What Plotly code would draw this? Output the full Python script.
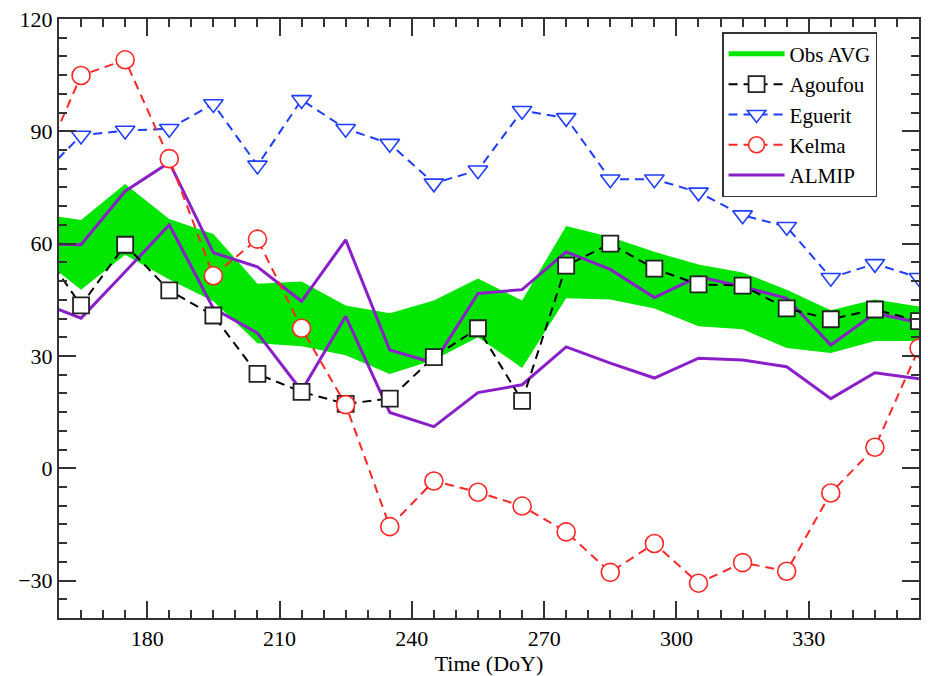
import plotly.graph_objects as go

# Day of year (10-day steps)
doy = [155, 165, 175, 185, 195, 205, 215, 225, 235, 245, 255,
       265, 275, 285, 295, 305, 315, 325, 335, 345, 355]

# Observed average envelope
obs_upper = [68, 66.3, 75.9, 66.6, 62.6, 49.3, 49.9, 43.5, 41.4, 44.8, 50.7,
             44.8, 64.7, 61.8, 57.8, 54.4, 52.3, 47.7, 42.2, 45.1, 43.2]
obs_lower = [57, 47.7, 57.0, 50.4, 44.6, 33.4, 32.6, 30.2, 25.2, 28.9, 35.0,
             26.8, 45.4, 45.1, 42.7, 37.9, 37.1, 32.1, 30.8, 34.0, 34.0]

# Site series
agoufou = [60.5, 43.5, 59.7, 47.5, 40.8, 25.2, 20.4, 17.2, 18.6, 29.7, 37.4,
           18.0, 54.1, 60.0, 53.3, 49.1, 48.8, 42.7, 39.8, 42.4, 39.3]
eguerit = [77, 88.9, 90.2, 90.7, 97.3, 80.9, 98.4, 90.7, 86.7, 76.1, 79.6,
           95.5, 93.6, 77.2, 77.2, 73.7, 67.6, 64.5, 50.9, 54.6, 50.9]
kelma = [78, 104.9, 109.1, 82.7, 51.4, 61.2, 37.4, 17.0, -15.6, -3.4, -6.4,
         -10.1, -17.0, -27.8, -20.1, -30.7, -25.2, -27.5, -6.6, 5.6, 32.1]

# ALMIP model, upper and lower members
almip_hi = [60, 59.7, 74.0, 81.7, 57.6, 53.8, 44.6, 61.0, 31.6, 28.1, 46.7,
            47.7, 57.8, 53.1, 45.6, 51.2, 48.5, 45.4, 32.9, 41.4, 38.9]
almip_lo = [44.7, 40.1, 52.5, 65.0, 42.7, 36.1, 20.7, 40.6, 14.9, 11.1, 20.2,
            22.3, 32.4, 28.1, 24.1, 29.4, 28.9, 27.1, 18.6, 25.5, 23.9]

GREEN = "#00e600"
BLUE = "#1f3dff"
RED = "#ff2626"
PURPLE = "#8a1fc9"
FONT = "Liberation Serif, Times New Roman, serif"
DASH = "9px,6px"
AXIS = "#333333"

fig = go.Figure()

# Envelope of observations
fig.add_trace(go.Scatter(x=doy, y=obs_lower, mode="lines", line=dict(width=0, color=GREEN),
                         showlegend=False, hoverinfo="skip"))
fig.add_trace(go.Scatter(x=doy, y=obs_upper, mode="lines", line=dict(width=0, color=GREEN),
                         fill="tonexty", fillcolor=GREEN, showlegend=False, hoverinfo="skip"))
fig.add_trace(go.Scatter(x=[None], y=[None], mode="lines", name="Obs AVG",
                         line=dict(color=GREEN, width=5), legendrank=1))

fig.add_trace(go.Scatter(x=doy, y=almip_hi, mode="lines", name="ALMIP", legendgroup="almip",
                         line=dict(color=PURPLE, width=3), legendrank=5))
fig.add_trace(go.Scatter(x=doy, y=almip_lo, mode="lines", name="ALMIP", legendgroup="almip",
                         line=dict(color=PURPLE, width=3), showlegend=False))

fig.add_trace(go.Scatter(x=doy, y=agoufou, mode="lines+markers", name="Agoufou",
                         line=dict(color="black", width=2, dash=DASH),
                         marker=dict(symbol="square", size=16, color="white",
                                     line=dict(color="#222222", width=1.8)),
                         legendrank=2))
fig.add_trace(go.Scatter(x=doy, y=eguerit, mode="lines+markers", name="Eguerit",
                         line=dict(color=BLUE, width=2, dash=DASH),
                         marker=dict(symbol="triangle-down", size=17, color="white",
                                     line=dict(color=BLUE, width=1.6)),
                         legendrank=3))
fig.add_trace(go.Scatter(x=doy, y=kelma, mode="lines+markers", name="Kelma",
                         line=dict(color=RED, width=2, dash=DASH),
                         marker=dict(symbol="circle", size=18, color="white",
                                     line=dict(color=RED, width=1.6)),
                         legendrank=4))

axis_common = dict(
    showgrid=False, zeroline=False, showline=True, linecolor=AXIS, linewidth=2,
    mirror="allticks", ticks="inside", ticklen=17, tickwidth=1.5, tickcolor=AXIS,
    tickfont=dict(family=FONT, size=22, color="black"),
)

fig.update_xaxes(range=[160, 355], tick0=0, dtick=30,
                 minor=dict(dtick=5, ticks="inside", ticklen=8, tickwidth=1.5, tickcolor=AXIS),
                 title=dict(text="Time (DoY)", font=dict(family=FONT, size=22, color="black"),
                            standoff=2),
                 **axis_common)
fig.update_yaxes(range=[-40, 120], tick0=0, dtick=30,
                 minor=dict(dtick=5, ticks="inside", ticklen=8, tickwidth=1.5, tickcolor=AXIS),
                 **axis_common)

fig.update_layout(
    width=928, height=676,
    margin=dict(l=59, r=7, t=16, b=56),
    plot_bgcolor="white", paper_bgcolor="white",
    font=dict(family=FONT, size=22, color="black"),
    legend=dict(x=0.771, y=0.978, xanchor="left", yanchor="top",
                bgcolor="white", bordercolor=AXIS, borderwidth=1.5,
                font=dict(family=FONT, size=21, color="black"),
                itemwidth=56, tracegroupgap=0),
    showlegend=True,
)

fig.write_html("out.html")
